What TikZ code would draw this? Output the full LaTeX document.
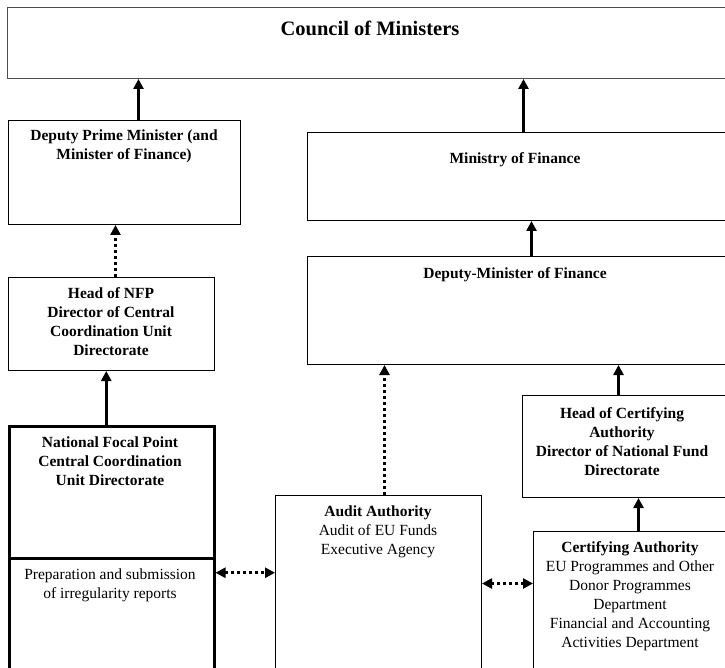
\documentclass[tikz,border=0pt]{standalone}
\usepackage{fontspec}
\setmainfont{Liberation Serif}
\usetikzlibrary{positioning}
\usetikzlibrary{arrows.meta}

\begin{document}
\begin{tikzpicture}[x=1pt,y=-1pt,
  box/.style={draw,line width=1pt,anchor=north west,inner sep=0pt},
  thickbox/.style={box,line width=2.5pt},
  ttl/.style={anchor=north,align=center,inner sep=0pt,font=\fontsize{15.5}{19}\selectfont\bfseries},
  txt/.style={anchor=north,align=center,inner sep=0pt,font=\fontsize{15.5}{19}\selectfont},
  up/.style={line width=3pt,-{Triangle[length=10pt,width=10pt]}},
  dots/.style={line width=3pt,dash pattern=on 3pt off 3pt,-{Triangle[length=10pt,width=10pt]}},
  both/.style={dots,{Triangle[length=10pt,width=10pt]}-{Triangle[length=10pt,width=10pt]}}]
 \clip (0,0) rectangle (725,668);
 \node[box,draw=black!70,minimum width=723pt,minimum height=71pt] (cm) at (7,7) {};
 \node[ttl,font=\fontsize{20.5}{24}\selectfont\bfseries] (cmt) at (370,21) {Council of Ministers};
 \node[box,minimum width=232pt,minimum height=104pt] (dpm) at (8,120) {};
 \node[ttl] (dpmt) at (124,130) {Deputy Prime Minister (and\\Minister of Finance)};
 \node[box,minimum width=423pt,minimum height=88pt] (mof) at (307,132) {};
 \node[ttl] (moft) at (515,152) {Ministry of Finance};
 \node[box,minimum width=423pt,minimum height=108pt] (dm) at (307,256) {};
 \node[ttl] (dmt) at (515,267) {Deputy-Minister of Finance};
 \node[box,minimum width=206pt,minimum height=93pt] (hnfp) at (8,277) {};
 \node[ttl] (hnfpt) at (111,287) {Head of NFP\\Director of Central\\Coordination Unit\\Directorate};
 \node[thickbox,minimum width=205pt,minimum height=132pt] (nfp) at (8,425) {};
 \node[ttl] (nfpt) at (110,437) {National Focal Point\\Central Coordination\\Unit Directorate};
 \node[thickbox,minimum width=205pt,minimum height=120pt] (nfplow) at (8,557) {};
 \node[txt] (nfplowt) at (110,569) {Preparation and submission\\of irregularity reports};
 \node[box,minimum width=206pt,minimum height=180pt] (audit) at (275,495) {};
 \node[txt] (auditt) at (378,506) {\textbf{Audit Authority}\\Audit of EU Funds\\Executive Agency};
 \node[box,minimum width=210pt,minimum height=102pt] (hca) at (522,395) {};
 \node[ttl] (hcat) at (622,407) {Head of Certifying\\Authority\\Director of National Fund\\Directorate};
 \node[box,minimum width=200pt,minimum height=145pt] (ca) at (533,531) {};
 \node[txt] (cat) at (630,541) {\textbf{Certifying Authority}\\EU Programmes and Other\\Donor Programmes\\Department\\Financial and Accounting\\Activities Department};
 \draw[up] ([xshift=14pt]dpm.north) -- ([xshift=14pt]dpm.north |- cm.south);
 \draw[up] ([xshift=4.5pt]mof.north) -- ([xshift=4.5pt]mof.north |- cm.south);
 \draw[up] ([xshift=12.5pt]dm.north) -- ([xshift=12.5pt]dm.north |- mof.south);
 \draw[dots] ([xshift=4pt]hnfp.north) -- ([xshift=4pt]hnfp.north |- dpm.south);
 \draw[up] ([xshift=-5.5pt]nfp.north) -- ([xshift=-5.5pt]nfp.north |- hnfp.south);
 \draw[dots] ([xshift=6pt]audit.north) -- ([xshift=6pt]audit.north |- dm.south);
 \draw[up] ([xshift=-9pt]hca.north) -- ([xshift=-9pt]hca.north |- dm.south);
 \draw[up] ([xshift=5pt]ca.north) -- ([xshift=5pt]ca.north |- hca.south);
 \draw[both] ([yshift=45.5pt]nfplow.east) -- ([yshift=45.5pt]nfplow.east -| audit.west);
 \draw[both] ([yshift=2pt]audit.east) -- ([yshift=2pt]audit.east -| ca.west);
\end{tikzpicture}
\end{document}
